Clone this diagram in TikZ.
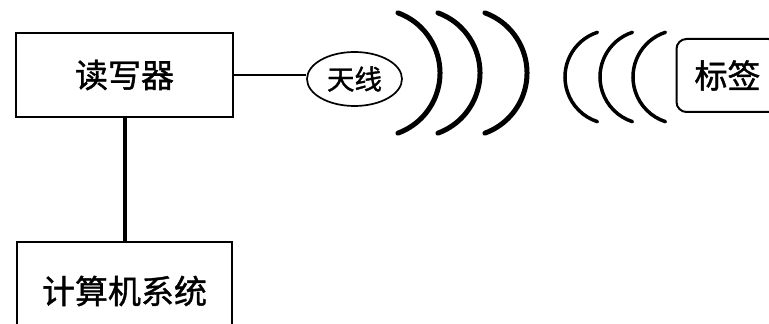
\documentclass[tikz,border=0pt]{standalone}
\usepackage{fontspec}
\setmainfont{Noto Sans CJK SC}[BoldFont=Noto Sans CJK SC, BoldFeatures={FakeBold=1.2}]
\usetikzlibrary{positioning, shapes.geometric}

\begin{document}
\begin{tikzpicture}[x=1pt, y=1pt, on grid,
    every node/.style={font=\fontsize{33}{38}\selectfont\bfseries}]
  \tikzstyle{boxN}=[rectangle, draw=black, line width=2pt, minimum width=217pt, minimum height=84pt]
  \tikzstyle{antN}=[ellipse, draw=black, line width=1.7pt, inner sep=0pt, minimum width=95pt, minimum height=54pt, font=\fontsize{27.5}{32}\selectfont\bfseries]
  \tikzstyle{tagN}=[rectangle, rounded corners=10pt, draw=black, line width=2pt, minimum width=102pt, minimum height=73pt]
  \tikzstyle{waveOut}=[line width=5pt, line cap=round]
  \tikzstyle{waveIn}=[line width=3.5pt, line cap=round]

  \useasboundingbox (0,0) rectangle (769,324);

  \node[boxN]          (reader)   at (124.5,249)          {读写器};
  \node[boxN, minimum width=215pt, minimum height=97pt]
                       (computer) [below=216pt of reader] {计算机系统};
  \node[antN]          (antenna)  [right=230pt of reader, yshift=-4pt] {天线};
  \node[tagN]          (tag)      [right=373pt of antenna, yshift=3.5pt] {标签};

  \draw[line width=2pt] (reader.east) -- (reader.east -| antenna.west);
  \draw[line width=4pt] (reader) -- (computer);

  % waves going out from the antenna
  \foreach \ax in {440,480,527}
    \draw[waveOut] ({\ax-64},251) ++(70:64) arc[start angle=70, end angle=-70, radius=64];
  % waves coming back from the tag
  \foreach \ax in {565,600,633}
    \draw[waveIn] ({\ax+47},247) ++(108:47) arc[start angle=108, end angle=252, radius=47];
\end{tikzpicture}
\end{document}
